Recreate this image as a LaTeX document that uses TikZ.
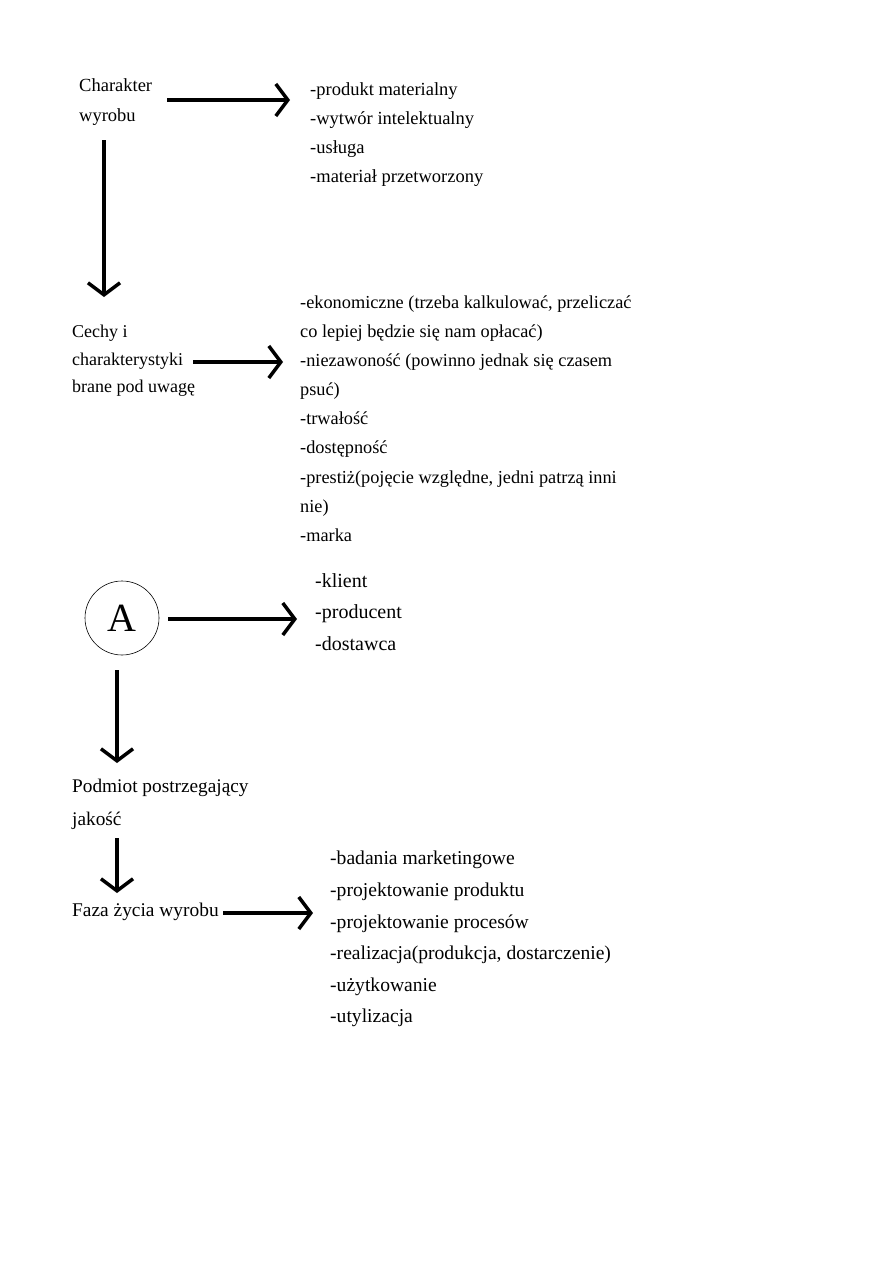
\documentclass[tikz,border=0pt]{standalone}
\usepackage{fontspec}
\setmainfont{Liberation Serif}
\usetikzlibrary{arrows.meta}
\begin{document}
\begin{tikzpicture}[x=1pt,y=-1pt,
  lbl/.style={anchor=north west,inner sep=0pt,align=left},
  arr/.style={line width=3.5pt,-{Straight Barb[length=12pt,width=32pt,line width=3.5pt]}}]
\useasboundingbox (0,0) rectangle (893,1263);
\node[lbl,font=\fontsize{18.5}{30}\selectfont] (c1) at (79,78.5) {Charakter\\wyrobu};
\node[lbl,font=\fontsize{18.5}{29}\selectfont] (l1) at (310,82.5) {-produkt materialny\\-wytwór intelektualny\\-usługa\\-materiał przetworzony};
\node[lbl,font=\fontsize{18}{27.5}\selectfont] (c2) at (72,325) {Cechy i\\charakterystyki\\brane pod uwagę};
\node[lbl,font=\fontsize{18.3}{29.1}\selectfont] (l2) at (300,295.5) {-ekonomiczne (trzeba kalkulować, przeliczać\\co lepiej będzie się nam opłacać)\\-niezawoność (powinno jednak się czasem\\psuć)\\-trwałość\\-dostępność\\-prestiż(pojęcie względne, jedni patrzą inni\\nie)\\-marka};
\node[draw,circle,minimum size=74pt,inner sep=0pt,line width=0.6pt,font=\fontsize{40}{40}\selectfont] (a) at (122,618) {A};
\node[lbl,font=\fontsize{20}{31.5}\selectfont] (l3) at (315,573) {-klient\\-producent\\-dostawca};
\node[lbl,font=\fontsize{19.3}{33}\selectfont] (c3) at (72,779) {Podmiot postrzegający\\jakość};
\node[lbl,font=\fontsize{19.4}{30}\selectfont] (c4) at (72,903) {Faza życia wyrobu};
\node[lbl,font=\fontsize{19.6}{31.6}\selectfont] (l4) at (330,851) {-badania marketingowe\\-projektowanie produktu\\-projektowanie procesów\\-realizacja(produkcja, dostarczenie)\\-użytkowanie\\-utylizacja};
\coordinate (s1) at (167,100); \coordinate (e1) at (290,100);
\draw[arr] (s1) -- (e1);
\coordinate (s2) at (104,140); \coordinate (e2) at (104,297);
\draw[arr] (s2) -- (e2);
\coordinate (s3) at (193,362); \coordinate (e3) at (283,362);
\draw[arr] (s3) -- (e3);
\coordinate (s4) at (168,619); \coordinate (e4) at (297,619);
\draw[arr] (s4) -- (e4);
\coordinate (s5) at (117,670); \coordinate (e5) at (117,763);
\draw[arr] (s5) -- (e5);
\coordinate (s6) at (117,838); \coordinate (e6) at (117,893);
\draw[arr] (s6) -- (e6);
\coordinate (s7) at (223,913); \coordinate (e7) at (313,913);
\draw[arr] (s7) -- (e7);
\end{tikzpicture}
\end{document}
